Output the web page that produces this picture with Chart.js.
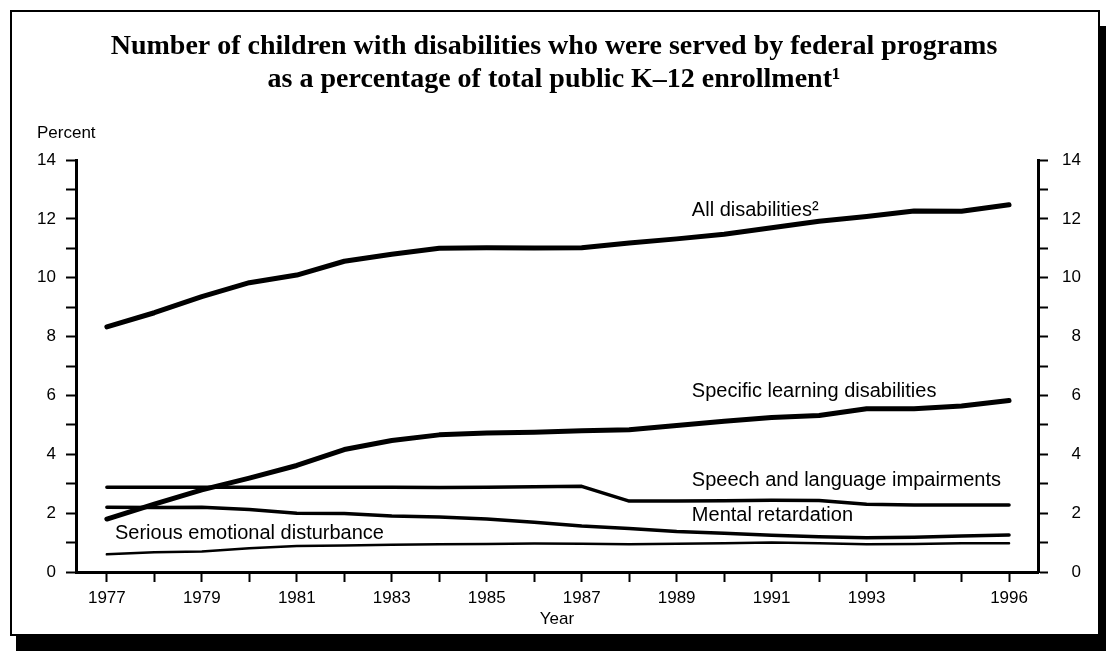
<!DOCTYPE html>
<html>
<head>
<meta charset="utf-8">
<title>Children with disabilities served by federal programs</title>
<script src="https://cdn.jsdelivr.net/npm/chart.js@4.4.1/dist/chart.umd.min.js"></script>
<style>
  body { margin: 0; background: #fff; }
  #frame {
    position: absolute; left: 10px; top: 10px;
    width: 1086px; height: 622px;
    border: 2px solid #000;
    box-shadow: 6px 16px 0 #000;
    background: #fff;
  }
  #chart { position: absolute; left: 0; top: 0; }
</style>
</head>
<body>
<div id="frame"></div>
<canvas id="chart" width="1106" height="651"></canvas>
<script>
// Data (percent of total public K-12 enrollment)
const years = [1977, 1978, 1979, 1980, 1981, 1982, 1983, 1984, 1985, 1986,
               1987, 1988, 1989, 1990, 1991, 1992, 1993, 1994, 1995, 1996];
const labeledYears = [1977, 1979, 1981, 1983, 1985, 1987, 1989, 1991, 1993, 1996];
const percentLabels = [0, 2, 4, 6, 8, 10, 12, 14];

const allDisabilities = [8.33, 8.81, 9.36, 9.83, 10.09, 10.56, 10.8, 11.0, 11.02, 11.01,
                         11.02, 11.18, 11.32, 11.48, 11.7, 11.92, 12.08, 12.27, 12.26, 12.48];
const learningDisabilities = [1.8, 2.31, 2.79, 3.19, 3.62, 4.16, 4.47, 4.66, 4.72, 4.75,
                              4.8, 4.83, 4.98, 5.12, 5.25, 5.32, 5.55, 5.55, 5.64, 5.83];
const speechImpairments = [2.88, 2.88, 2.88, 2.88, 2.88, 2.88, 2.88, 2.87, 2.88, 2.9,
                           2.91, 2.41, 2.41, 2.42, 2.44, 2.43, 2.3, 2.28, 2.28, 2.28];
const mentalRetardation = [2.2, 2.19, 2.2, 2.12, 2.0, 1.99, 1.9, 1.87, 1.8, 1.69,
                           1.56, 1.48, 1.38, 1.32, 1.25, 1.2, 1.16, 1.18, 1.22, 1.26];
const emotionalDisturbance = [0.6, 0.67, 0.7, 0.81, 0.88, 0.9, 0.93, 0.94, 0.95, 0.97,
                              0.96, 0.94, 0.96, 0.98, 1.0, 0.98, 0.94, 0.95, 0.98, 0.98];

const seriesNames = ['All disabilities²', 'Specific learning disabilities',
                     'Speech and language impairments', 'Mental retardation',
                     'Serious emotional disturbance'];

// where each line label sits, in chart units (year, percent)
const labelSpots = [[1989.32, 12.28], [1989.32, 6.14], [1989.32, 3.1], [1989.32, 1.93], [1977.17, 1.31]];

const sansFont = '"Liberation Sans", Arial, sans-serif';
const serifFont = '"Liberation Serif", "Times New Roman", serif';

function toPoints(values) {
    return years.map((yr, i) => ({ x: yr, y: values[i] }));
}

function makeLine(values, width) {
    return {
        data: toPoints(values),
        borderColor: '#000',
        borderWidth: width,
        pointRadius: 0,
        tension: 0,
        borderCapStyle: 'round',
        borderJoinStyle: 'round'
    };
}

// Text that is not tied to a scale: title, axis names, line labels, right tick labels
const textPlugin = {
    id: 'chartText',
    afterDraw(chart) {
        const { ctx, chartArea, scales } = chart;
        ctx.save();
        ctx.fillStyle = '#000';
        ctx.textBaseline = 'middle';

        ctx.textAlign = 'center';
        ctx.font = 'bold 28px ' + serifFont;
        ctx.fillText('Number of children with disabilities who were served by federal programs', 554, 47);
        ctx.fillText('as a percentage of total public K\u201312 enrollment\u00b9', 554, 80);

        ctx.font = '17px ' + sansFont;
        ctx.fillText('Year', (chartArea.left + chartArea.right) / 2, 619);

        // right axis numbers are right-aligned in the original
        ctx.textAlign = 'right';
        percentLabels.forEach(v => {
            ctx.fillText(String(v), chartArea.right + 43, scales.y2.getPixelForValue(v));
        });

        ctx.textAlign = 'left';
        ctx.fillText('Percent', 37, 133);

        ctx.font = '20px ' + sansFont;
        seriesNames.forEach((name, i) => {
            const px = scales.x.getPixelForValue(labelSpots[i][0]);
            const py = scales.y.getPixelForValue(labelSpots[i][1]);
            ctx.fillText(name, px, py);
        });
        ctx.restore();
    }
};

// Fix the plot box so the axes land where the original has them
function fixWidth(w) { return scale => { scale.width = w; }; }

const tickGrid = { drawOnChartArea: false, tickLength: 10, tickWidth: 2, tickColor: '#000' };
const axisBorder = { display: true, width: 3, color: '#000' };

new Chart(document.getElementById('chart'), {
    type: 'line',
    data: {
        datasets: [
            makeLine(allDisabilities, 5),
            makeLine(learningDisabilities, 5),
            makeLine(speechImpairments, 3.5),
            makeLine(mentalRetardation, 3.5),
            makeLine(emotionalDisturbance, 2.5)
        ]
    },
    options: {
        responsive: false,
        animation: false,
        layout: { padding: { top: 160, left: 0, right: 0, bottom: 0 } },
        plugins: {
            legend: { display: false },
            tooltip: { enabled: false }
        },
        scales: {
            x: {
                type: 'linear',
                min: 1976.35,
                max: 1996.61,
                afterBuildTicks: scale => { scale.ticks = years.map(v => ({ value: v })); },
                afterFit: scale => { scale.height = 651 - 572; },
                ticks: {
                    autoSkip: false,
                    maxRotation: 0,
                    color: '#000',
                    padding: 6,
                    font: { family: sansFont, size: 17 },
                    callback: v => (labeledYears.includes(v) ? String(v) : '')
                },
                grid: tickGrid,
                border: axisBorder
            },
            y: {
                position: 'left',
                min: 0,
                max: 14,
                afterFit: fixWidth(76),
                ticks: {
                    stepSize: 1,
                    color: '#000',
                    font: { family: sansFont, size: 17 },
                    padding: 10,
                    callback: v => (v % 2 === 0 ? v : '')
                },
                grid: tickGrid,
                border: axisBorder
            },
            y2: {
                position: 'right',
                min: 0,
                max: 14,
                afterFit: fixWidth(1106 - 1038),
                ticks: {
                    stepSize: 1,
                    color: 'rgba(0,0,0,0)',
                    callback: () => ''
                },
                grid: tickGrid,
                border: axisBorder
            }
        }
    },
    plugins: [textPlugin]
});
</script>
</body>
</html>
